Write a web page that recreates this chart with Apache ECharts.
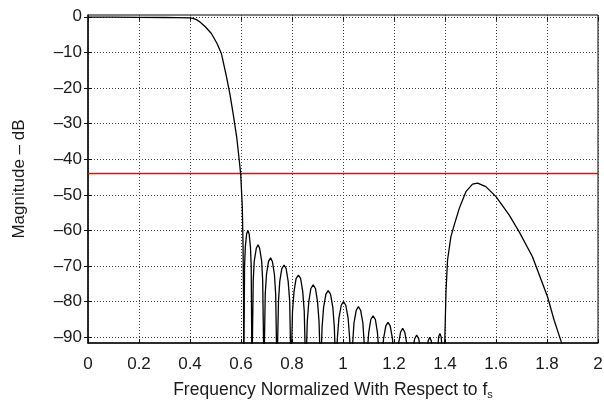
<!DOCTYPE html>
<html><head><meta charset="utf-8">
<script src="https://cdn.jsdelivr.net/npm/echarts@6/dist/echarts.min.js"></script>
<style>html,body{margin:0;padding:0;background:#fff}#c{width:604px;height:401px}</style>
</head><body><div id="c"></div>
<script>
// Tick values
const yTickValues = [-90, -80, -70, -60, -50, -40, -30, -20, -10, 0];
const specLimitDb = -44;
const specLimitSpan = [0, 2];

// Response curve: [normalized frequency, magnitude dB]
const passband = [[0,-0.1],[0.1,-0.1],[0.2,-0.15],[0.3,-0.2],[0.35,-0.25],[0.4,-0.3],[0.412,-0.45]];
const transition = [[0.425,-0.8],[0.438,-1.4],[0.46,-2.8],[0.484,-4.7],[0.506,-7.5],[0.523,-10.3],
  [0.543,-16.8],[0.556,-21.5],[0.569,-27.1],[0.583,-33.7],[0.593,-40.2],[0.599,-44.4],[0.605,-53.3],
  [0.608,-64],[0.610,-78],[0.611,-100]];
const sidelobes = [
  [0.614,-70],[0.617,-64.6],[0.622,-61],[0.627,-60],[0.632,-61],[0.637,-64.6],[0.640,-70],[0.643,-100],
  [0.648,-74],[0.652,-68.6],[0.660,-65],[0.667,-64],[0.673,-65],[0.681,-68.6],[0.685,-74],[0.690,-100],
  [0.695,-77.9],[0.700,-72.3],[0.708,-68.7],[0.716,-67.7],[0.723,-68.7],[0.731,-72.3],[0.736,-77.9],[0.741,-100],
  [0.747,-79.9],[0.752,-74.3],[0.760,-70.7],[0.769,-69.7],[0.777,-70.7],[0.785,-74.3],[0.791,-79.9],[0.796,-100],
  [0.802,-82.7],[0.808,-77.1],[0.816,-73.5],[0.825,-72.5],[0.834,-73.5],[0.842,-77.1],[0.848,-82.7],[0.854,-100],
  [0.860,-85.5],[0.866,-79.9],[0.874,-76.3],[0.883,-75.3],[0.892,-76.3],[0.900,-79.9],[0.906,-85.5],[0.912,-100],
  [0.918,-87.1],[0.924,-81.5],[0.933,-77.9],[0.942,-76.9],[0.951,-77.9],[0.960,-81.5],[0.966,-87.1],[0.972,-100],
  [0.978,-90.2],[0.984,-84.6],[0.993,-81],[1.002,-80],[1.011,-81],[1.020,-84.6],[1.026,-90.2],[1.032,-100],
  [1.038,-91.6],[1.043,-86],[1.052,-82.4],[1.0605,-81.4],[1.069,-82.4],[1.078,-86],[1.083,-91.6],[1.089,-100],
  [1.095,-94.2],[1.101,-88.6],[1.109,-85],[1.118,-84],[1.127,-85],[1.135,-88.6],[1.141,-94.2],[1.147,-100],
  [1.153,-96],[1.159,-90.4],[1.168,-86.8],[1.1765,-85.8],[1.185,-86.8],[1.194,-90.4],[1.200,-96],[1.206,-100],
  [1.212,-97.7],[1.217,-92.1],[1.226,-88.5],[1.234,-87.5],[1.242,-88.5],[1.251,-92.1],[1.256,-97.7],[1.262,-100],
  [1.273,-94],[1.281,-90.4],[1.289,-89.4],[1.297,-90.4],[1.305,-94],[1.316,-100],
  [1.327,-94.6],[1.334,-91],[1.340,-90],[1.346,-91],[1.353,-94.6],[1.364,-100],
  [1.371,-93.5],[1.375,-89.9],[1.380,-88.9],[1.385,-89.9],[1.389,-93.5],[1.396,-100]];
const aliasLobe = [[1.403,-100],[1.404,-77],[1.41,-68.3],[1.423,-61.8],[1.436,-58.5],[1.456,-53.8],
  [1.482,-49.1],[1.508,-47.0],[1.528,-46.7],[1.56,-47.7],[1.6,-50.5],[1.652,-55.7],[1.691,-60.4],
  [1.743,-67.4],[1.802,-78.6],[1.828,-85.2],[1.858,-91.7],[1.862,-93]];

const response = passband.concat(transition, sidelobes, aliasLobe);
const specLine = specLimitSpan.map(f => [f, specLimitDb]);

const FONT = 'Liberation Sans, Arial, sans-serif';
const TXT = '#1a1a1a';
const gridLine = {show:true, lineStyle:{color:'#444', width:1, type:[1,2]}};

const chart = echarts.init(document.getElementById('c'), null, {renderer:'canvas'});
chart.setOption({
  animation:false,
  backgroundColor:'#fff',
  color:['#ff0000', '#000000'],
  grid:{left:88, right:6, top:15, bottom:58, containLabel:false, outerBoundsMode:'none',
    show:true, borderColor:'#000', borderWidth:1, backgroundColor:'transparent'},
  xAxis:[{
    type:'value', min:0, max:2, interval:0.2, position:'bottom',
    name:'Frequency Normalized With Respect to f{sub|s}',
    nameLocation:'middle', nameGap:38,
    nameTextStyle:{fontFamily:FONT, fontSize:17.5, color:TXT, padding:[0,20,0,0],
      rich:{sub:{fontFamily:FONT, fontSize:11, color:TXT, verticalAlign:'bottom', padding:[8,0,0,0]}}},
    axisLine:{show:true, onZero:false, lineStyle:{color:'#111', width:1.5}},
    axisTick:{show:true, inside:true, length:4, lineStyle:{color:'#111'}},
    axisLabel:{fontFamily:FONT, fontSize:17, color:TXT, margin:13},
    splitLine:gridLine
  },{
    type:'value', min:0, max:2, interval:0.2, position:'top',
    axisLine:{show:false}, axisTick:{show:true, inside:true, length:4, lineStyle:{color:'#111'}},
    axisLabel:{show:false}, splitLine:{show:false}
  }],
  yAxis:[{
    type:'value', min:-91.6, max:0.5, position:'left',
    name:'Magnitude – dB', nameLocation:'middle', nameGap:60,
    nameTextStyle:{fontFamily:FONT, fontSize:17, color:TXT},
    axisLine:{show:true, onZero:false, lineStyle:{color:'#111', width:1.5}},
    axisTick:{show:true, inside:true, length:4, customValues:yTickValues, lineStyle:{color:'#111'}},
    axisLabel:{fontFamily:FONT, fontSize:17, color:TXT, margin:6, customValues:yTickValues,
      formatter:v => v === 0 ? '0' : '–' + Math.abs(v)},
    splitLine:gridLine
  },{
    type:'value', min:-91.6, max:0.5, position:'right',
    axisLine:{show:false},
    axisTick:{show:true, inside:true, length:4, customValues:yTickValues, lineStyle:{color:'#111'}},
    axisLabel:{show:false, customValues:yTickValues}, splitLine:{show:false}
  }],
  series:[{
    name:'limit', type:'line', xAxisIndex:0, yAxisIndex:0, data:specLine, showSymbol:false, symbol:'none',
    lineStyle:{color:'#ff0000', width:1.5, opacity:1}, itemStyle:{color:'#ff0000'}, z:2, silent:true
  },{
    name:'response', type:'line', xAxisIndex:0, yAxisIndex:0, data:response, showSymbol:false, symbol:'none',
    clip:true, lineStyle:{color:'#000', width:1.3}, itemStyle:{color:'#000'}, z:3
  }]
});
</script></body></html>
